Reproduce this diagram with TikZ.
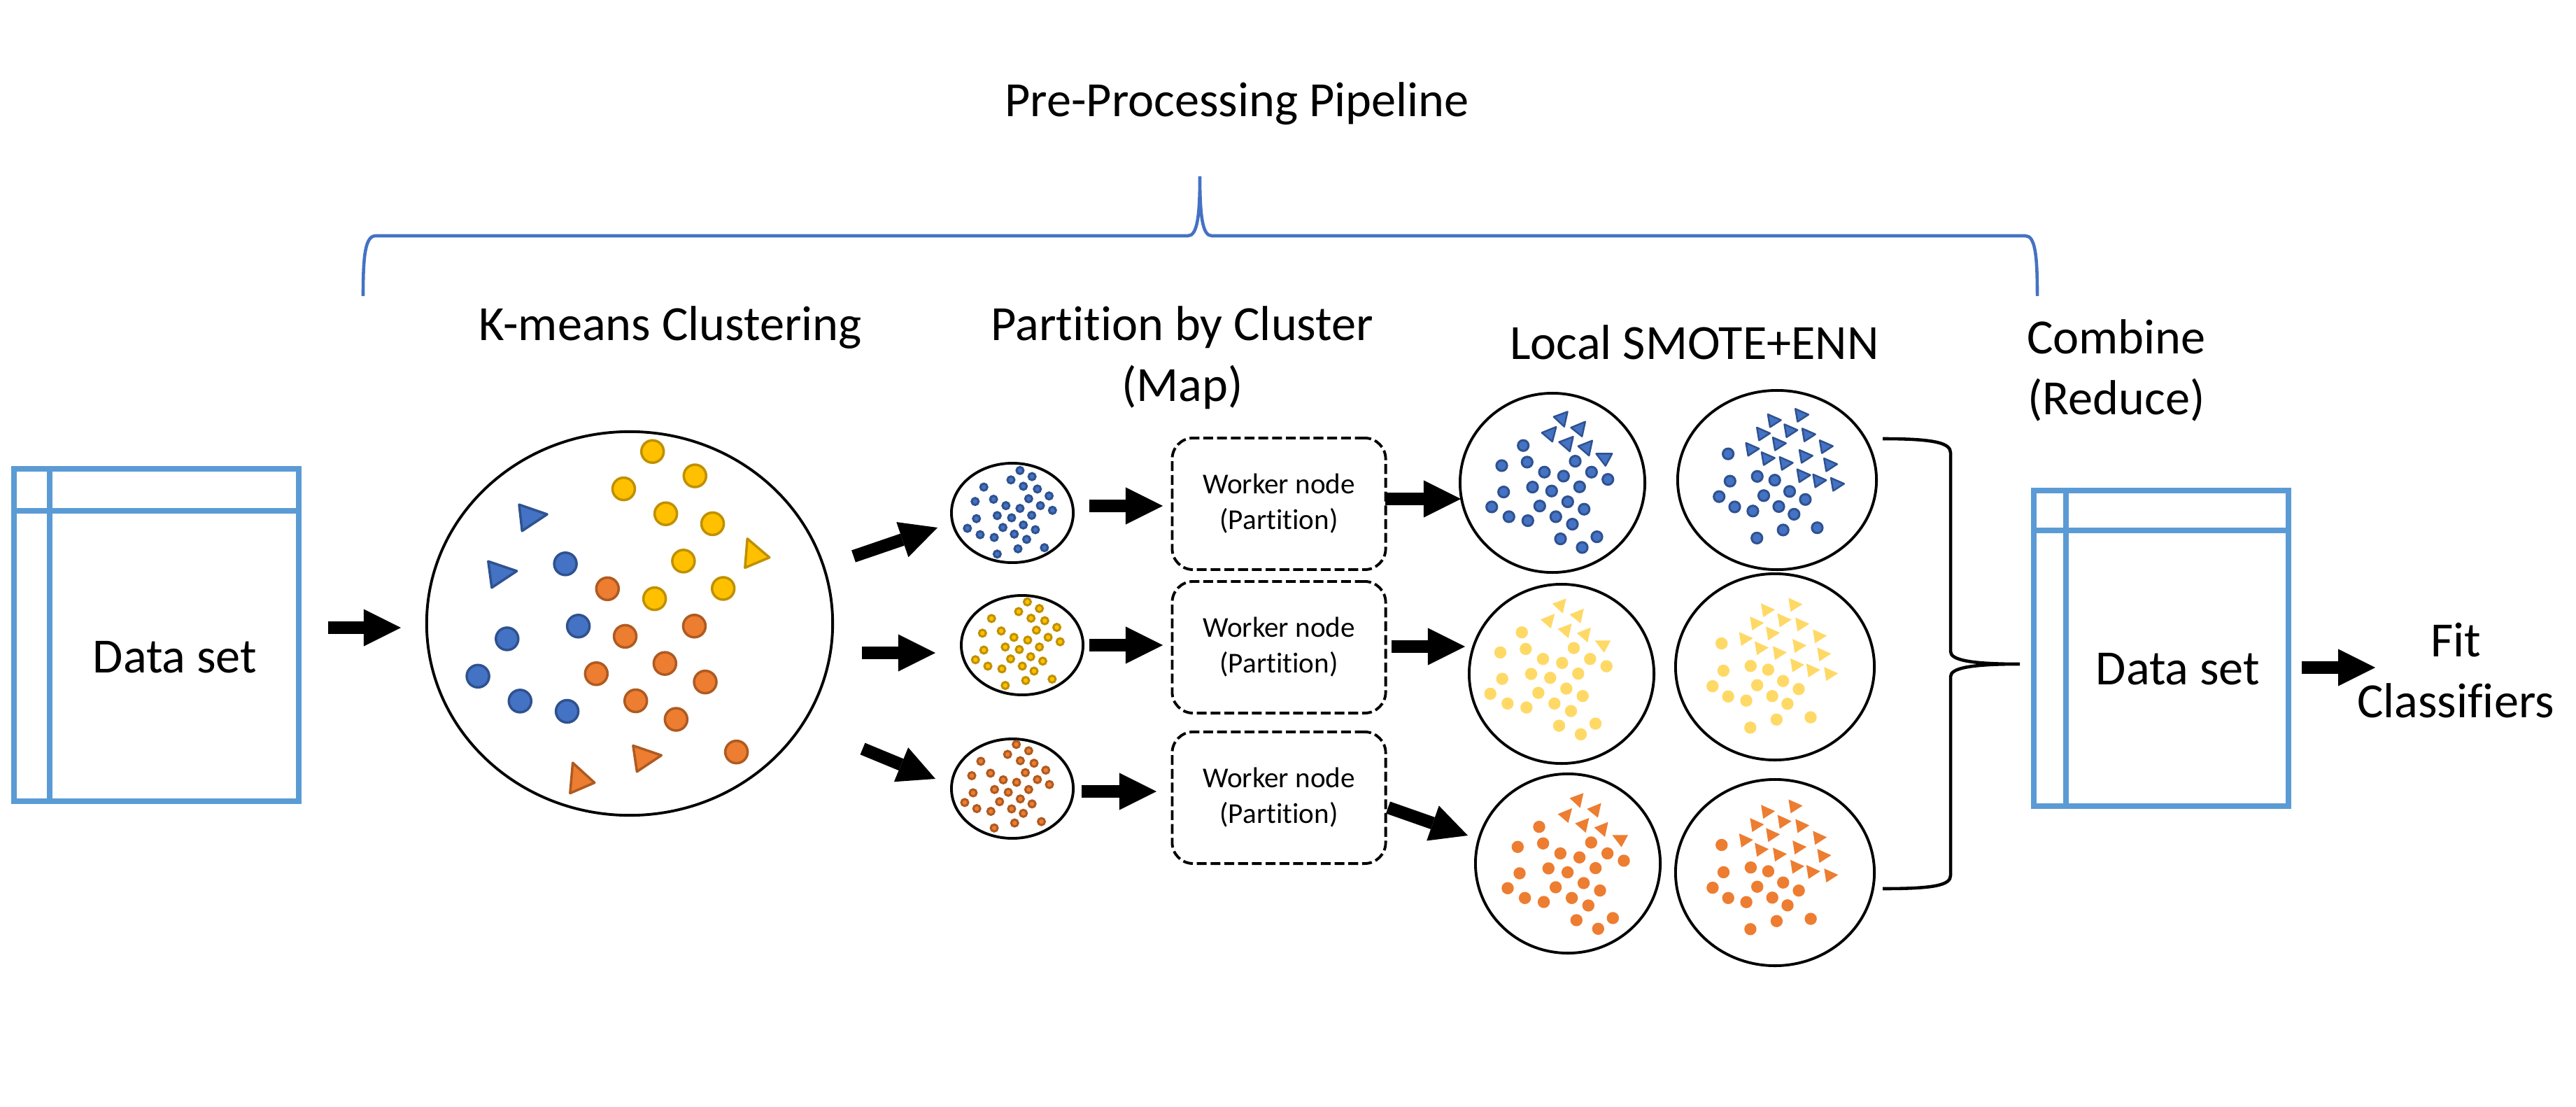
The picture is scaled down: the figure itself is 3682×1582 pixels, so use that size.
\documentclass[tikz,border=0pt]{standalone}
\usepackage{fontspec}
\setmainfont{Carlito}[Ligatures=NoCommon]
\usetikzlibrary{arrows.meta,shapes.geometric,calc}
\definecolor{dsblue}{HTML}{5B9BD5}
\definecolor{brblue}{HTML}{4472C4}
\definecolor{cblue}{HTML}{4472C4}
\definecolor{cbluedk}{HTML}{2F528F}
\definecolor{cyel}{HTML}{FFC000}
\definecolor{cyeldk}{HTML}{BF9000}
\definecolor{cora}{HTML}{ED7D31}
\definecolor{coradk}{HTML}{AE5A21}
\definecolor{lyel}{HTML}{FFD966}
\begin{document}
\begin{tikzpicture}[x=0.01cm,y=-0.01cm,
  lbl/.style={font=\fontsize{20}{24.7}\selectfont, align=center, inner sep=0pt},
  dsbox/.style={draw=dsblue, line width=2.3pt, minimum width=4.07cm, minimum height=4.75cm, inner sep=0pt, outer sep=0pt},
  dsline/.style={draw=dsblue, line width=2.3pt},
  bigc/.style={ellipse, draw, line width=1.1pt, minimum width=5.8cm, minimum height=5.48cm, inner sep=0pt, outer sep=0pt},
  smallc/.style={ellipse, draw, line width=1.1pt, minimum width=1.74cm, minimum height=1.42cm, inner sep=0pt, outer sep=0pt},
  smc/.style={ellipse, draw, line width=1.1pt, inner sep=0pt, outer sep=0pt},
  worker/.style={draw, line width=1.1pt, dash pattern=on 4pt off 1.6pt, rounded corners=0.3cm, minimum width=3.05cm, minimum height=1.88cm, align=center, font=\fontsize{11.7}{14.5}\selectfont, outer sep=0pt},
  blk/.style={line width=0.18cm, -{Triangle[width=0.53cm,length=0.53cm,line width=0pt]}},
  bdot/.style={fill=cblue, draw=cbluedk, line width=1pt},
  ydot/.style={fill=cyel, draw=cyeldk, line width=1pt},
  odot/.style={fill=cora, draw=coradk, line width=1pt},
  sbdot/.style={fill=cblue, draw=cbluedk, line width=0.85pt},
  sydot/.style={fill=cyel, draw=cyeldk, line width=0.85pt},
  sodot/.style={fill=cora, draw=coradk, line width=0.85pt},
  lydot/.style={fill=lyel},
  lodot/.style={fill=cora},
  lbdot/.style={fill=cblue, draw=cbluedk, line width=0.85pt},
  lbtri/.style={fill=cblue, draw=cbluedk, line width=0.7pt, line join=round},
  lytri/.style={fill=lyel},
  lotri/.style={fill=cora}
]
\fill[white] (0,0) rectangle (3682,1582);
\useasboundingbox (0,0) rectangle (3682,1582);

% ---------- titles ----------
\node[lbl, anchor=base] (title) at (1768,167) {Pre-Processing Pipeline};
\node[lbl, anchor=base] (tkm) at (958,486) {K-means Clustering};
\node[lbl, anchor=base] (tpart) at (1690,573) {Partition by Cluster\\(Map)};
\node[lbl, anchor=base] (tsmote) at (2422,513) {Local SMOTE+ENN};
\node[lbl, anchor=base] (tcomb) at (3025,592) {Combine\\(Reduce)};

% ---------- blue brace ----------
\draw[brblue, line width=1.3pt] (519,423) .. controls (519,365) and (522,337) .. (537,337) -- (1698,337)
  .. controls (1711,337) and (1715,310) .. (1715,252)
  .. controls (1715,310) and (1719,337) .. (1732,337) -- (2895,337)
  .. controls (2909,337) and (2912,365) .. (2912,423);

% ---------- data set boxes ----------
\node[dsbox] (ds1) at (223.5,907.5) {};
\draw[dsline] ($(ds1.north west)+(0,60)$) -- ($(ds1.north east)+(0,60)$);
\draw[dsline] ($(ds1.north west)+(51,0)$) -- ($(ds1.south west)+(51,0)$);
\node[lbl, anchor=base] (ds1t) at (250,961) {Data set};

\node[dsbox, minimum width=3.64cm, minimum height=4.51cm] (ds2) at (3089,926.5) {};
\draw[dsline] ($(ds2.north west)+(0,57)$) -- ($(ds2.north east)+(0,57)$);
\draw[dsline] ($(ds2.north west)+(46,0)$) -- ($(ds2.south west)+(46,0)$);
\node[lbl, anchor=base] (ds2t) at (3113,978) {Data set};

\node[lbl, anchor=base] (fit) at (3510,1025) {Fit\\Classifiers};

% ---------- big circle ----------
\node[bigc] (big) at (900,891) {};
\foreach \a/\b in {838/165, 982/253, 740/300, 883/390, 1042/426, 943/561, 1078/660, 845/697}
  \filldraw[ydot] ({580+\a/2.376},{580+\b/2.529}) circle (16);
\foreach \a/\b in {542/571, 586/796, 344/842, 245/977, 388/1067, 548/1104}
  \filldraw[bdot] ({580+\a/2.376},{580+\b/2.529}) circle (16);
\foreach \a/\b in {685/661, 745/833, 980/796, 647/968, 880/931, 1017/998, 781/1066, 918/1133, 1123/1251}
  \filldraw[odot] ({580+\a/2.376},{580+\b/2.529}) circle (16);
\filldraw[ydot, line join=round] ({580+1160/2.376},{580+480/2.529}) -- ({580+1235/2.376},{580+548/2.529}) -- ({580+1152/2.376},{580+585/2.529}) -- cycle;
\filldraw[bdot, line join=round] ({580+385/2.376},{580+357/2.529}) -- ({580+480/2.376},{580+392/2.529}) -- ({580+395/2.376},{580+452/2.529}) -- cycle;
\filldraw[bdot, line join=round] ({580+280/2.376},{580+562/2.529}) -- ({580+377/2.376},{580+597/2.529}) -- ({580+292/2.376},{580+657/2.529}) -- cycle;
\filldraw[odot, line join=round] ({580+772/2.376},{580+1228/2.529}) -- ({580+868/2.376},{580+1263/2.529}) -- ({580+785/2.376},{580+1322/2.529}) -- cycle;
\filldraw[odot, line join=round] ({580+567/2.376},{580+1290/2.529}) -- ({580+641/2.376},{580+1362/2.529}) -- ({580+558/2.376},{580+1400/2.529}) -- cycle;

% ---------- small circles ----------
\node[smallc] (sc1) at (1447,733) {};
\node[smallc] (sc2) at (1461,922) {};
\node[smallc] (sc3) at (1447,1127) {};
\foreach \a/\b in {330/183,303/217,366/205,222/243,340/240,382/250,417/275,196/295,251/287,356/285,288/310,330/320,391/310,427/327,200/357,262/346,305/354,365/345,173/392,279/389,340/380,376/397,211/415,253/425,313/413,350/432,324/466,403/462,262/485}
  \filldraw[sbdot] ({1300+\a/2.09},{600+\b/2.529}) circle (5);
\foreach \a/\b in {352/658,388/682,326/693,245/718,363/717,404/726,440/750,218/771,274/763,379/760,312/786,353/796,414/786,450/802,222/832,286/821,328/830,388/821,197/867,302/864,362/856,398/872,234/890,276/900,337/890,372/908,347/942,426/937,286/960}
  \filldraw[sydot] ({1300+\a/2.09},{600+\b/2.529}) circle (5);
\foreach \a/\b in {319/1173,293/1209,356/1196,213/1234,331/1232,372/1241,407/1266,186/1286,242/1277,346/1275,280/1301,320/1310,382/1300,418/1318,190/1348,254/1336,295/1346,356/1336,165/1383,269/1380,331/1370,366/1388,201/1405,243/1415,305/1406,340/1422,314/1457,394/1452,253/1475}
  \filldraw[sodot] ({1300+\a/2.09},{600+\b/2.529}) circle (5);

% ---------- worker nodes ----------
\node[worker] (w1) at (1828,720) {Worker node\\(Partition)};
\node[worker] (w2) at (1828,925) {Worker node\\(Partition)};
\node[worker] (w3) at (1828,1140) {Worker node\\(Partition)};

% ---------- SMOTE circles ----------
\node[smc, minimum width=2.64cm, minimum height=2.56cm] (a1) at (2219,690) {};
\node[smc, minimum width=2.64cm, minimum height=2.56cm] (a2) at (2232,963) {};
\node[smc, minimum width=2.64cm, minimum height=2.56cm] (a3) at (2241,1234) {};
\node[smc, minimum width=2.84cm, minimum height=2.56cm] (b1) at (2540,686) {};
\node[smc, minimum width=2.84cm, minimum height=2.66cm] (b2) at (2537,953) {};
\node[smc, minimum width=2.84cm, minimum height=2.66cm] (b3) at (2537,1247) {};

\def\CoA{-41.3/-52.2, -72/-23.5, -35.7/-28.5, 33/-29.8, -11/-14.2, 16.3/-8.5, 56.3/-14.2, 79.7/-3.8, -69.3/14.2, -28/7.2, -0.7/12.8, 39.3/6.8, -86.3/35.5, -17.7/34.2, 22.3/28.2, 45.7/38.8, -61.7/49.5, -34.7/55.2, 5.3/49.5, 29/60.2, 12/81.2, 64/78.2, 43/93.5}
\def\CoT{2.3/-93.2/22/-100.5/17.3/-79.2, -14.7/-70.5/5.7/-78.8/0.3/-57.8, 27/-77.8/47.3/-86.2/42.7/-65.2, 10/-57.2/30/-64.8/25.3/-43.8, 37.3/-51.2/57.3/-59.2/52.7/-37.8, 63/-40.5/85.7/-40.5/76.3/-23.2}
\def\CtD{-69.9/-36.5, -67.2/2.5, -82.8/24.6, -60.5/39.3, -28.3/-4.3, -3.3/1.1, -19/23.2, 18/17.2, 2.5/38.8, -34.6/45.2, 40.4/28.7, 24.3/49.8, 8.7/72.3, -28.8/83.8, 57.4/69.1}
\def\CtT{-6/-84.3, 33.3/-92.1, -21.7/-65.4, 17.6/-70, 43.1/-64, 1.1/-51.2, -37.3/-43.4, 68.1/-47.1, -15/-30.1, 10.9/-23.2, 39.1/-33.3, 74.3/-21.3, 35.9/-5.7, 58.7/1.6, 84.2/6.7}

% column 1 (SMOTE)
\begin{scope}[shift={(2218.5,688.9)}]
  \foreach \a/\b in \CoA \filldraw[lbdot] (\a,\b) circle (7.6);
  \foreach \xa/\ya/\xb/\yb/\xc/\yc in \CoT \filldraw[lbtri] (\xa,\ya) -- (\xb,\yb) -- (\xc,\yc) -- cycle;
\end{scope}
\begin{scope}[shift={(2216.5,955.9)}]
  \foreach \a/\b in \CoA \fill[lydot] (\a,\b) circle (8.7);
  \foreach \xa/\ya/\xb/\yb/\xc/\yc in \CoT \fill[lytri] (\xa,\ya) -- (\xb,\yb) -- (\xc,\yc) -- cycle;
\end{scope}
\begin{scope}[shift={(2241.3,1233.8)}]
  \foreach \a/\b in \CoA \fill[lodot] (\a,\b) circle (8.7);
  \foreach \xa/\ya/\xb/\yb/\xc/\yc in \CoT \fill[lotri] (\xa,\ya) -- (\xb,\yb) -- (\xc,\yc) -- cycle;
\end{scope}
% column 2 (after ENN)
\begin{scope}[shift={(2540,685.1)}]
  \foreach \a/\b in \CtD \filldraw[lbdot] (\a,\b) circle (7.6);
  \foreach \a/\b in \CtT \filldraw[lbtri] ({\a-7.1},{\b-8.7}) -- ({\a+11.6},{\b-0.5}) -- ({\a-4},{\b+9.6}) -- cycle;
\end{scope}
\begin{scope}[shift={(2530.6,956)}]
  \foreach \a/\b in \CtD \fill[lydot] (\a,\b) circle (8.7);
  \foreach \a/\b in \CtT \fill[lytri] ({\a-7.6},{\b-9.5}) -- ({\a+12.4},{\b-0.5}) -- ({\a-4.5},{\b+10.4}) -- cycle;
\end{scope}
\begin{scope}[shift={(2530.7,1244)}]
  \foreach \a/\b in \CtD \fill[lodot] (\a,\b) circle (8.7);
  \foreach \a/\b in \CtT \fill[lotri] ({\a-7.6},{\b-9.5}) -- ({\a+12.4},{\b-0.5}) -- ({\a-4.5},{\b+10.4}) -- cycle;
\end{scope}

% ---------- black brace ----------
\draw[line width=1.3pt] (2691,627) .. controls (2765,627) and (2788,633) .. (2788,647) -- (2788,931)
  .. controls (2788,943) and (2815,949) .. (2887,949)
  .. controls (2815,949) and (2788,955) .. (2788,967) -- (2788,1251)
  .. controls (2788,1265) and (2765,1270) .. (2691,1270);

% ---------- arrows ----------
\draw[blk] ($(ds1.center)+(245.5,-10.5)$) -- ($(big.center)+(-327,6)$);
\draw[blk] ($(big.center)+(320,-96)$) -- ($(sc1.center)+(-107,21)$);
\draw[blk] ($(big.center)+(332,42)$) -- ($(sc2.center)+(-124,11)$);
\draw[blk] ($(big.center)+(333,179)$) -- ($(sc3.center)+(-110,-14)$);
\draw[blk] ($(sc1.center)+(110,-10)$) -- ($(w1.center)+(-166,3)$);
\draw[blk] ($(sc2.center)+(96,0)$) -- ($(w2.center)+(-166,-3)$);
\draw[blk] ($(sc3.center)+(99,4)$) -- ($(w3.center)+(-175,-9)$);
\draw[blk] ($(w1.center)+(152,-7)$) -- ($(a1.center)+(-131,23)$);
\draw[blk] ($(w2.center)+(161,-1)$) -- ($(a2.center)+(-138,-39)$);
\draw[blk] ($(w3.center)+(156,14)$) -- ($(a3.center)+(-143,-40)$);
\draw[blk] ($(ds2.center)+(201,27.5)$) -- ($(fit.base)+(-115,-71)$);
\end{tikzpicture}
\end{document}
